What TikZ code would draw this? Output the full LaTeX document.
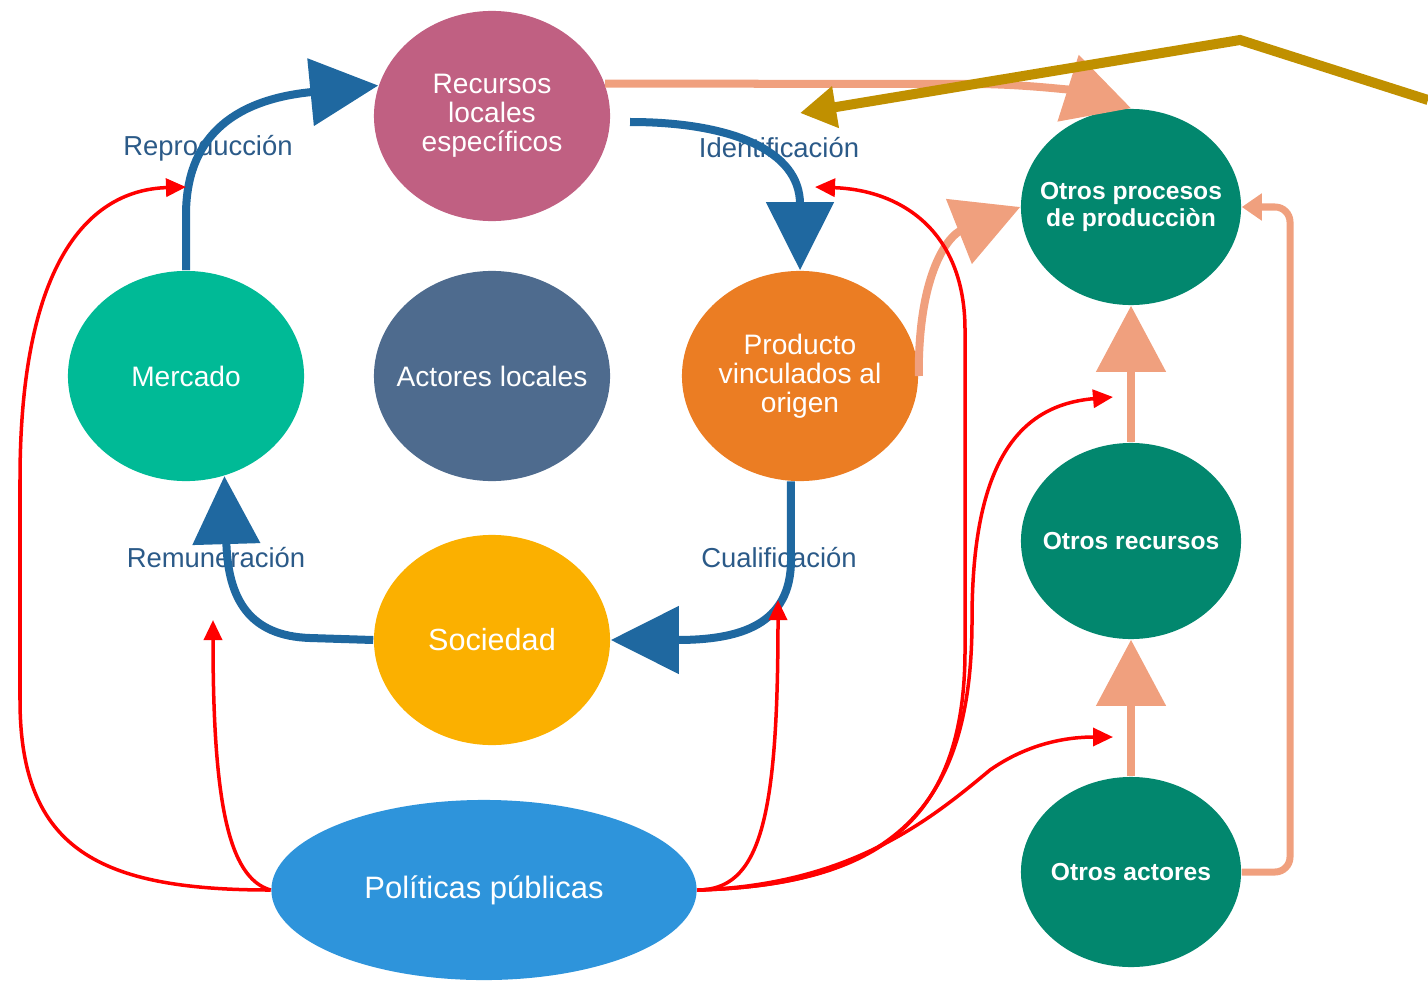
\documentclass[tikz,border=0pt]{standalone}
\usepackage{fontspec}
\setmainfont{Liberation Sans}
\usetikzlibrary{shapes.geometric,arrows.meta}

\definecolor{recursos}{HTML}{C06082}
\definecolor{mercado}{HTML}{00BA96}
\definecolor{actores}{HTML}{4E6B8E}
\definecolor{producto}{HTML}{EB7D23}
\definecolor{sociedad}{HTML}{FBB000}
\definecolor{politicas}{HTML}{2E94DB}
\definecolor{otros}{HTML}{02876E}
\definecolor{flowblue}{HTML}{1F68A0}
\definecolor{lblblue}{HTML}{2B5A88}
\definecolor{salmon}{HTML}{F0A07E}
\definecolor{gold}{HTML}{C09000}

\begin{document}
\begin{tikzpicture}[x=0.01cm, y=-0.01cm,
  oval/.style={ellipse, minimum width=2.36cm, minimum height=2.1cm, inner xsep=-12pt, inner ysep=-4pt,
    text=white, align=center, font=\fontsize{8}{8.2}\selectfont},
  otro/.style={oval, fill=otros, minimum width=2.2cm, minimum height=1.96cm, font=\bfseries\fontsize{7}{7.7}\selectfont},
  lbl/.style={text=lblblue, font=\fontsize{7.8}{9}\selectfont},
  flow/.style={draw=flowblue, line width=0.08cm, -{Triangle[length=6.8mm,width=6.6mm]}},
  feed/.style={draw=salmon, line width=0.08cm, -{Triangle[length=6.6mm,width=6.8mm]}},
  pol/.style={draw=red, line width=0.035cm, -{Triangle[length=2mm,width=1.8mm]}}]
  \useasboundingbox (0,0) rectangle (1428,982);

  % Nodes
  \node[oval, fill=recursos] (rec) at (492,116) {Recursos\\locales\\específicos};
  \node[oval, fill=mercado] (merc) at (186,376) {Mercado};
  \node[oval, fill=actores] (act) at (492,376) {Actores locales};
  \node[oval, fill=producto] (prod) at (800,376) {Producto\\vinculados al\\origen};
  \node[oval, fill=sociedad, font=\fontsize{8.7}{10}\selectfont] (soc) at (492,640) {Sociedad};
  \node[oval, fill=politicas, minimum width=4.25cm, minimum height=1.8cm,
    font=\fontsize{8.8}{10}\selectfont] (poli) at (484,890) {Políticas públicas};
  \node[otro] (oproc) at (1131,207) {Otros procesos\\de producciòn};
  \node[otro] (orec) at (1131,541) {Otros recursos};
  \node[otro, minimum height=1.9cm] (oact) at (1131,872) {Otros actores};

  % Labels
  \node[lbl] (lrep) at (208,148) {Reproducción};
  \node[lbl] (lident) at (779,148) {Identificación};
  \node[lbl] (lremu) at (216,558) {Remuneración};
  \node[lbl] (lcual) at (779,558) {Cualificación};

  % Free ends
  \coordinate (idstart) at (630,122);
  \coordinate (rA) at (186,187);
  \coordinate (rB) at (213,620);
  \coordinate (rC) at (778,600);
  \coordinate (rD) at (815,187);
  \coordinate (rE) at (1113,397);
  \coordinate (rF) at (1113,737);
  \coordinate (g1) at (1428,100);
  \coordinate (g2) at (1240,40);
  \coordinate (g3) at (800,113);

  % Cycle
  \draw[flow] (merc.north) -- (186,215) .. controls (186,140) and (230,100) .. (rec.165);
  \draw[flow] (idstart) .. controls (730,122) and (800,150) .. (prod.north);
  \draw[flow] (prod.-95) -- (791,560) .. controls (791,625) and (740,640) .. (soc.east);
  \draw[flow] (soc.west) -- (310,638) .. controls (250,636) and (228,600) .. (merc.-69);

  % Other processes
  \draw[feed] (rec.16) -- (980,84) .. controls (1040,85) and (1080,92) .. (oproc.north);
  \draw[feed] (prod.east) .. controls (918,270) and (950,235) .. (oproc.west);
  \draw[feed] (orec.north) -- (oproc.south);
  \draw[feed] (oact.north) -- (orec.south);
  \draw[draw=salmon, line width=0.07cm, rounded corners=0.15cm, -{Triangle[length=2mm,width=2.6mm]}]
    (oact.east) -- (1290,872) |- (oproc.east);

  % Public policies
  \draw[pol] (poli.west) .. controls (100,890) and (20,850) .. (20,700) -- (20,480)
    .. controls (20,260) and (90,190) .. (rA);
  \draw[pol] (poli.west) .. controls (228,878) and (213,800) .. (rB);
  \draw[pol] (poli.east) .. controls (760,890) and (778,820) .. (rC);
  \draw[pol] (poli.east) .. controls (880,885) and (965,820) .. (965,650) -- (965,330)
    .. controls (965,230) and (900,190) .. (rD);
  \draw[pol] (poli.east) .. controls (900,885) and (972,800) .. (972,620)
    .. controls (972,460) and (1020,405) .. (rE);
  \draw[pol] (poli.east) .. controls (850,885) and (930,820) .. (990,770)
    .. controls (1030,742) and (1070,737) .. (rF);

  % Pointer
  \draw[draw=gold, line width=0.1cm, -{Triangle[length=3.6mm,width=4mm]}] (g1) -- (g2) -- (g3);
\end{tikzpicture}
\end{document}
